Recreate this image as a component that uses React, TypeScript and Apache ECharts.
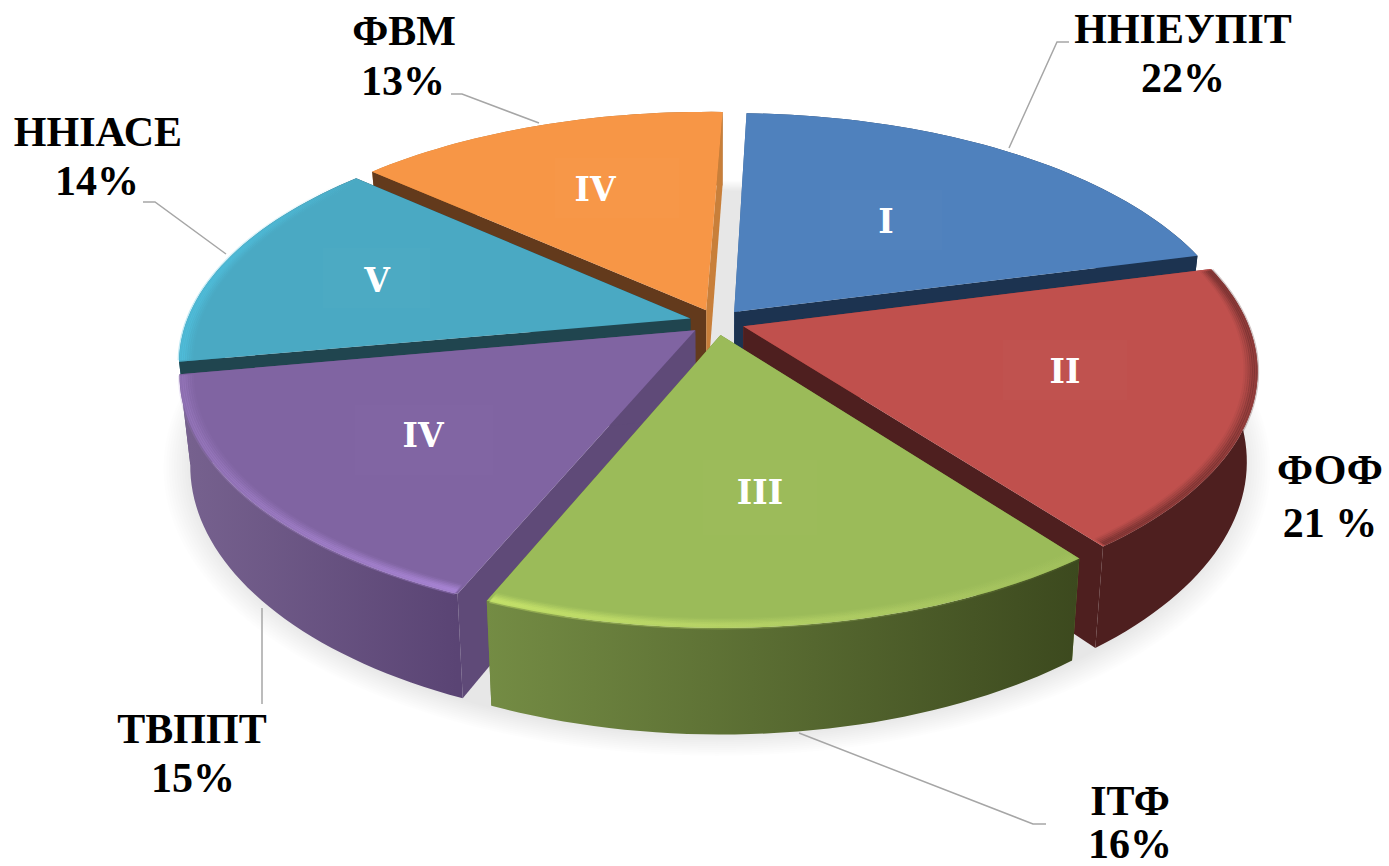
import React, { useEffect, useRef } from "react";
import * as echarts from "echarts";

// Data
const sliceNames = ["ННІЕУПІТ", "ФОФ", "ІТФ", "ТВППТ", "ННІАСЕ", "ФВМ"];
const percentLabels = ["22%", "21 %", "16%", "15%", "14%", "13%"];
const romanLabels = ["I", "II", "III", "IV", "V", "IV"];
// Drawn slice sizes (percent of the full circle)
const sliceValues = [20.4, 18.7, 16.65, 15.85, 14.4, 14.0];

// Styling and layout
const START_DEG = 2;
const CX = 717, CY = 322, R = 504, RY = 236.7, PERSP = 0.1745, H = 87, BOTTOM_SCALE = 0.98, EXPLODE = 0.055;
const topColors = ["#4f81bd", "#c0504d", "#9bbb59", "#8064a2", "#4aa9c3", "#f79646"];
const sideStops: string[][] = [
  ["#2b4a70", "#1c3350"],
  ["#4e1f1f", "#4e1f1f"],
  ["#748c44", "#3c491e"],
  ["#77628f", "#5a4474"],
  ["#2f7f95", "#205060"],
  ["#c87f3a", "#a86a30"],
];
const startWall = ["#3f6899", "#8a3836", "#6a8238", "#5f4a78", "#20454f", "#633a1c"];
const endWall = ["#1c3350", "#4e1f1f", "#6a8238", "#5f4a78", "#20454f", "#c87f3a"];
const sideOverWalls = [false, true, true, true, false, false];
const bevelColors: (string[] | null)[] = [
  null,
  ["rgba(78,31,31,0.65)", "rgba(78,31,31,0.65)"],
  ["rgba(208,236,110,0.95)", "rgba(190,215,110,0.15)"],
  ["rgba(170,135,210,0.5)", "rgba(178,140,225,0.95)"],
  ["rgba(80,195,225,0.9)", "rgba(80,195,225,0.0)"],
  null,
];
const paintRank = [1, 3, 5, 4, 2, 0]; // slice index -> back-to-front rank

const romanPos = [[886, 221], [1065, 371], [760, 492], [423, 435], [377, 280], [595, 189]];
const romanRect = [[830, 190, 112, 60], [1003, 340, 124, 60], [703, 460, 114, 75], [355, 405, 138, 70], [323, 248, 107, 60], [555, 158, 124, 60]];
const nameBase = [[1183, 47], [1330, 488], [1130, 819], [192, 747], [98, 150], [404, 49]];
const pctBase = [[1183, 96], [1330, 541], [1130, 862], [193, 796], [97, 199], [403, 99]];
const leaderLines = [
  [[1009, 148], [1057, 42], [1069, 42]],
  [[799, 733], [1033, 824], [1046, 824]],
  [[262, 608], [262, 704]],
  [[226, 254], [155, 202], [143, 202]],
  [[539, 123], [462, 94], [451, 94]],
];

const toRad = (d: number) => (d * Math.PI) / 180;

function project(X: number, Z: number, bottom: boolean) {
  const w = 1 / (1 - PERSP * Z);
  let x = CX + R * X * w;
  let y = CY + RY * Z * w;
  if (bottom) {
    x = CX + (x - CX) * BOTTOM_SCALE;
    y += H * w;
  }
  return [x, y];
}

function arcPoints(a0: number, a1: number, r: number, ox: number, oz: number, bottom: boolean) {
  const n = Math.max(8, Math.ceil(Math.abs(a1 - a0) / 1.5));
  const pts: number[][] = [];
  for (let i = 0; i <= n; i++) {
    const a = toRad(a0 + ((a1 - a0) * i) / n);
    pts.push(project(ox + r * Math.sin(a), oz - r * Math.cos(a), bottom));
  }
  return pts;
}

function hGrad(x0: number, x1: number, c0: string, c1: string) {
  return new echarts.graphic.LinearGradient(x0, 0, x1, 0, [
    { offset: 0, color: c0 },
    { offset: 1, color: c1 },
  ], true);
}

function renderSlice(params: any) {
  const i = params.dataIndex;
  const total = sliceValues.reduce((s, v) => s + v, 0);
  let before = 0;
  for (let k = 0; k < i; k++) before += sliceValues[k];
  const a0 = START_DEG + (before / total) * 360;
  const a1 = a0 + (sliceValues[i] / total) * 360;
  const mid = toRad((a0 + a1) / 2);
  const ox = EXPLODE * Math.sin(mid);
  const oz = -EXPLODE * Math.cos(mid);
  const base = (paintRank[i] + 1) * 100;

  const topArc = arcPoints(a0, a1, 1, ox, oz, false);
  const botArc = arcPoints(a0, a1, 1, ox, oz, true);
  const apexT = project(ox, oz, false);
  const apexB = project(ox, oz, true);
  const xs = topArc.map((p) => p[0]);
  const minX = Math.min(...xs), maxX = Math.max(...xs);
  const wallZ = sideOverWalls[i] ? base : base + 1;
  const sideZ = sideOverWalls[i] ? base + 1 : base;

  const children: any[] = [];
  children.push({
    type: "polygon", z2: wallZ,
    shape: { points: [apexT, topArc[0], botArc[0], apexB] },
    style: { fill: startWall[i] },
  });
  children.push({
    type: "polygon", z2: wallZ,
    shape: { points: [apexT, topArc[topArc.length - 1], botArc[botArc.length - 1], apexB] },
    style: { fill: endWall[i] },
  });
  children.push({
    type: "polygon", z2: sideZ,
    shape: { points: [...topArc, ...botArc.slice().reverse()] },
    style: { fill: hGrad(minX, maxX, sideStops[i][0], sideStops[i][1]) },
  });
  children.push({
    type: "polygon", z2: base + 2,
    shape: { points: [apexT, ...topArc] },
    style: { fill: topColors[i] },
  });
  const bevel = bevelColors[i];
  if (bevel) {
    const rings = [[0.024, 0.1], [0.02, 0.2], [0.016, 0.3], [0.012, 0.45], [0.008, 0.55], [0.004, 0.55], [0.0, 0.4]];
    rings.forEach(([d, op], k) => {
      children.push({
        type: "polyline", z2: base + 3 + k,
        shape: { points: arcPoints(a0 + 0.3, a1 - 0.3, 1 - d, ox, oz, false) },
        style: { fill: "none", stroke: hGrad(minX, maxX, bevel[0], bevel[1]), lineWidth: 3, opacity: op },
      });
    });
  }
  const rc = romanRect[i];
  children.push({
    type: "rect", z2: base + 10,
    shape: { x: rc[0], y: rc[1], width: rc[2], height: rc[3] },
    style: { fill: "rgba(255,255,255,0.012)" },
  });
  children.push({
    type: "text", z2: base + 11,
    style: {
      x: romanPos[i][0], y: romanPos[i][1], text: romanLabels[i], fill: "#ffffff",
      font: 'bold 33px "DejaVu Serif"', align: "center", verticalAlign: "middle",
    },
  });
  return { type: "group", children };
}

// soft floor shadow: stacked translucent discs
const shadowRadii = [1.1, 1.095, 1.09, 1.085, 1.08, 1.075, 1.07, 1.065, 1.06, 1.055, 1.05, 1.045];
function renderShadow(params: any) {
  const r = shadowRadii[params.dataIndex];
  const pts = arcPoints(0, 360, r, 0, 0, true).map((p) => [p[0], p[1] + 4]);
  return {
    type: "polygon", z2: params.dataIndex + 1,
    shape: { points: pts },
    style: { fill: "rgba(0,0,0,0.0095)" },
  };
}

const textEl = (x: number, baseY: number, text: string) => ({
  type: "text", silent: true, z: 20,
  style: {
    x, y: baseY + 3, text, fill: "#000000",
    font: 'bold 42px "Liberation Serif"', align: "center", verticalAlign: "bottom",
  },
});

export default function App() {
  const ref = useRef<HTMLDivElement>(null);
  useEffect(() => {
    const chart = echarts.init(ref.current!, undefined, { renderer: "svg" });
    chart.setOption({
      animation: false,
      backgroundColor: "#ffffff",
      graphic: [
        ...leaderLines.map((pts) => ({
          type: "polyline", silent: true, z: 20,
          shape: { points: pts },
          style: { fill: "none", stroke: "#a6a6a6", lineWidth: 1.5 },
        })),
        ...sliceNames.map((n, i) => textEl(nameBase[i][0], nameBase[i][1], n)),
        ...percentLabels.map((p, i) => textEl(pctBase[i][0], pctBase[i][1], p)),
      ],
      series: [
        {
          type: "custom", coordinateSystem: "none", silent: true, z: 1,
          data: shadowRadii, renderItem: renderShadow,
        },
        {
          type: "custom", coordinateSystem: "none", silent: true, z: 2,
          data: sliceValues, renderItem: renderSlice,
        },
      ],
    });
    return () => chart.dispose();
  }, []);
  return <div ref={ref} style={{ position: "fixed", left: 0, top: 0, width: 1389, height: 866 }} />;
}
